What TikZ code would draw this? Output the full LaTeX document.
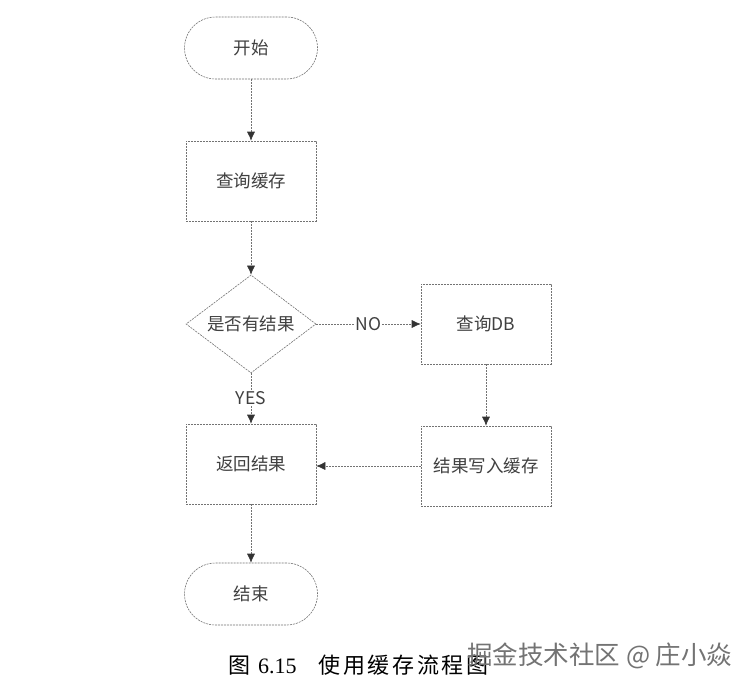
\documentclass[tikz,border=0pt]{standalone}
\usepackage{fontspec}
\setmainfont{Liberation Serif}
\newfontfamily\cjk{Noto Sans CJK SC}
\newfontfamily\cjkwide[LetterSpace = 12]{Noto Sans CJK SC}
\usetikzlibrary{shapes.geometric, arrows.meta}

\tikzset{
	flowline/.style = {draw = black!55, line width = 0.6pt, dash pattern = on 2pt off 1pt},
	terminal/.style = {flowline, rectangle, rounded corners = 31pt, minimum width = 133pt, minimum height = 62pt},
	process/.style = {flowline, rectangle, minimum width = 130pt, minimum height = 80pt},
	decision/.style = {flowline, diamond, aspect = 1.33, inner sep = 0pt, minimum width = 130pt, minimum height = 98pt},
	link/.style = {flowline, ->}
}

\begin{document}
\begin{tikzpicture}[> = {Latex[length = 9pt, width = 8pt, color = black!80]}, x = 1pt, y = -1pt,
	font = \cjk\fontsize{17.5}{20}\selectfont, text = black!75]

	% Page
	
	\useasboundingbox [fill = white] (0, 0) rectangle (749, 693);
	
	% Definition
	
	\def\Lx{251}	% Left column
	\def\Rx{486}	% Right column
	
	% Boxes
	
	\node [terminal] (start) at (\Lx, 48) {开始};
	\node [process] (cache) at (\Lx, 181) {查询缓存};
	\node [decision] (hit) at (\Lx, 324) {是否有结果};
	\node [process] (db) at (\Rx, 324) {查询DB};
	\node [process] (write) at (\Rx, 466) {结果写入缓存};
	\node [process] (back) at (\Lx, 464) {返回结果};
	\node [terminal] (stop) at (\Lx, 594) {结束};
	
	% Connectors
	
	\draw [link] (start) -- (cache);
	\draw [link] (cache) -- (hit);
	\draw [link] (hit) -- node [fill = white, inner sep = 1pt] {NO} (db);
	\draw [link] (hit) -- node [fill = white, inner sep = 1pt] {YES} (back);
	\draw [link] (db) -- (write);
	\draw [link] (write.west) -- (back.east |- write.west);
	\draw [link] (back) -- (stop);
	
	% Caption + watermark
	
	\node [anchor = west, text = black, font = \cjkwide\fontsize{22}{25}\selectfont] (caption) at (225, 665)
		{图 {\rmfamily 6.15}\hspace{1em}使用缓存流程图};
	\node [anchor = east, text = black!55, font = \cjk\fontsize{25.5}{28}\selectfont] (mark) at (736, 656) {掘金技术社区 @ 庄小焱};

\end{tikzpicture}
\end{document}
